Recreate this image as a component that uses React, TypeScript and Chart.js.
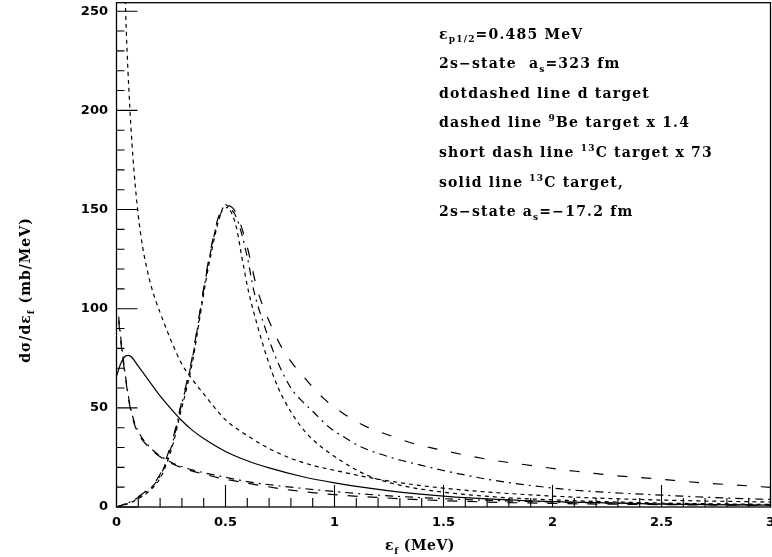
import React, { useEffect, useRef } from "react";
import { Chart, registerables } from "chart.js";

Chart.register(...registerables);

// ---- data ----
const longDashX = [0, 0.05, 0.1, 0.15, 0.2, 0.23, 0.26, 0.29, 0.32, 0.35, 0.38, 0.41, 0.44, 0.47, 0.51, 0.55, 0.6, 0.645, 0.705, 0.765, 0.86, 0.95, 1.04, 1.14, 1.25, 1.35, 1.47, 1.58, 1.69, 1.8, 1.92, 2.03, 2.15, 2.26, 2.38, 2.5, 2.6, 2.72, 2.84, 3.0];
const longDashY = [0, 2.1, 5.3, 9.5, 16.5, 25, 35, 49, 62, 77, 97, 117, 134, 147, 152, 148, 131, 110, 92.5, 79, 65.5, 54.8, 47.2, 40.8, 36.2, 32.4, 29.2, 26.6, 24.3, 22.4, 20.7, 19, 17.5, 16.1, 15, 14, 13, 11.9, 11.1, 9.9];

const dotDashX = [0, 0.05, 0.1, 0.15, 0.2, 0.23, 0.26, 0.29, 0.32, 0.35, 0.38, 0.41, 0.44, 0.47, 0.505, 0.55, 0.6, 0.63, 0.675, 0.73, 0.8, 0.85, 0.9, 0.97, 1.04, 1.12, 1.21, 1.3, 1.4, 1.5, 1.6, 1.7, 1.8, 1.95, 2.1, 2.25, 2.5, 2.75, 3.0];
const dotDashY = [0, 1.9, 4.8, 8.8, 15.5, 23.5, 33.5, 48, 61, 76, 96, 116, 133, 146, 151, 146, 126, 109, 92.5, 75.5, 60, 53.5, 48.3, 40.7, 35.5, 30.4, 26.7, 23.7, 21, 18.4, 16.1, 14, 12.3, 10.2, 8.5, 7.4, 6, 4.7, 3.8];

const shortPeakX = [0, 0.05, 0.1, 0.15, 0.2, 0.23, 0.26, 0.29, 0.32, 0.35, 0.38, 0.41, 0.44, 0.47, 0.5, 0.52, 0.55, 0.575, 0.605, 0.645, 0.69, 0.74, 0.8, 0.85, 0.9, 1.0, 1.15, 1.3, 1.5, 1.75, 2.0, 2.5, 3.0];
const shortPeakY = [0, 1.6, 4.2, 8.0, 14.5, 22, 32, 46, 59, 74, 94, 114, 131, 145, 152.5, 150, 141, 126, 109, 92, 75.5, 60.5, 48, 40, 34, 25.5, 16, 11, 7.5, 5, 3.6, 2, 1.3];

const shortTopX = [0.035, 0.042, 0.062, 0.08, 0.1, 0.12, 0.14, 0.16, 0.18, 0.2, 0.25, 0.3, 0.35, 0.4, 0.5, 0.6, 0.7, 0.8, 0.9, 1.0, 1.2, 1.5, 2.0, 2.5, 3.0];
const shortTopY = [280, 249.5, 199.7, 170, 147, 131, 120, 111, 104, 98, 84, 72, 64, 57, 44, 36, 29.5, 24.5, 21, 18.5, 14, 9.5, 5.5, 3.5, 2.5];

const solidX = [0, 0.02, 0.04, 0.055, 0.07, 0.1, 0.15, 0.2, 0.25, 0.3, 0.35, 0.4, 0.5, 0.6, 0.7, 0.85, 1.0, 1.15, 1.3, 1.5, 1.75, 2.0, 2.5, 3.0];
const solidY = [66, 72.5, 76, 76.5, 75.5, 71, 63.5, 56, 49.5, 43.5, 38.5, 34.5, 28, 23.3, 19.7, 15.4, 12.2, 9.6, 7.5, 5.5, 3.8, 2.7, 1.5, 0.9];

const lowDotDashX = [0.01, 0.02, 0.04, 0.06, 0.08, 0.1, 0.15, 0.2, 0.25, 0.3, 0.4, 0.5, 0.6, 0.8, 1.0, 1.2, 1.5, 2.0, 2.5, 3.0];
const lowDotDashY = [96, 85, 67, 52.5, 43.5, 38, 30.5, 25.8, 22.6, 20.3, 17.3, 15, 12.8, 10, 7.8, 6, 4.2, 2.5, 1.6, 1.1];

const lowDashX = [0.01, 0.02, 0.04, 0.06, 0.08, 0.1, 0.15, 0.2, 0.25, 0.3, 0.4, 0.5, 0.6, 0.8, 1.0, 1.2, 1.5, 2.0, 2.5, 3.0];
const lowDashY = [94, 83, 66, 51.5, 42.5, 37, 30, 25.3, 22.1, 19.8, 16.6, 14, 12, 8.5, 6.2, 4.8, 3.2, 1.8, 1.2, 0.8];

const xTickLabels = ["0", "0.5", "1", "1.5", "2", "2.5", "3"];
const yTickLabels = ["0", "50", "100", "150", "200", "250"];

type Part = { t: string; sub?: boolean; sup?: boolean };
const legendLines: Part[][] = [
  [{ t: "ε" }, { t: "p1/2", sub: true }, { t: "=0.485 MeV" }],
  [{ t: "2s−state  a" }, { t: "s", sub: true }, { t: "=323 fm" }],
  [{ t: "dotdashed line d target" }],
  [{ t: "dashed line " }, { t: "9", sup: true }, { t: "Be target x 1.4" }],
  [{ t: "short dash line " }, { t: "13", sup: true }, { t: "C target x 73" }],
  [{ t: "solid line " }, { t: "13", sup: true }, { t: "C target," }],
  [{ t: "2s−state a" }, { t: "s", sub: true }, { t: "=−17.2 fm" }],
];
const xTitle: Part[] = [{ t: "ε" }, { t: "f", sub: true }, { t: " (MeV)" }];
const yTitle: Part[] = [{ t: "dσ/dε" }, { t: "f", sub: true }, { t: " (mb/MeV)" }];

const SERIF = '"DejaVu Serif", serif';
const SANS = '"DejaVu Sans", sans-serif';

function pts(xs: number[], ys: number[]) {
  return xs.map((x, i) => ({ x, y: ys[i] }));
}

function setFont(ctx: CanvasRenderingContext2D, size: number, fam: string, spacing: string) {
  ctx.font = `bold ${size}px ${fam}`;
  (ctx as any).letterSpacing = spacing;
}

function richWidth(ctx: CanvasRenderingContext2D, parts: Part[], size: number, fam: string, spacing: string) {
  let w = 0;
  for (const p of parts) {
    const fs = p.sub || p.sup ? Math.round(size * 0.65) : size;
    setFont(ctx, fs, fam, spacing);
    w += ctx.measureText(p.t).width;
  }
  return w;
}

function drawRich(ctx: CanvasRenderingContext2D, x: number, y: number, parts: Part[], size: number, fam: string, spacing: string) {
  let cx = x;
  for (const p of parts) {
    const fs = p.sub || p.sup ? Math.round(size * 0.65) : size;
    setFont(ctx, fs, fam, spacing);
    const dy = p.sub ? size * 0.28 : p.sup ? -size * 0.42 : 0;
    ctx.fillText(p.t, cx, y + dy);
    cx += ctx.measureText(p.t).width;
  }
}

const decorPlugin = {
  id: "decor",
  afterDraw(chart: any) {
    const ctx: CanvasRenderingContext2D = chart.ctx;
    const { left, right, top, bottom } = chart.chartArea;
    const xs = chart.scales.x;
    const ys = chart.scales.y;
    ctx.save();
    ctx.strokeStyle = "#000";
    ctx.fillStyle = "#000";
    ctx.lineWidth = 1.3;
    ctx.strokeRect(left, top, right - left, bottom - top);
    ctx.lineWidth = 1.1;
    ctx.beginPath();
    for (let v = 0; v <= 250; v += 10) {
      const py = ys.getPixelForValue(v);
      const len = v % 50 === 0 ? 21 : 8;
      ctx.moveTo(left, py);
      ctx.lineTo(left + len, py);
    }
    for (let i = 0; i <= 30; i++) {
      const px = xs.getPixelForValue(i / 10);
      const len = i % 5 === 0 ? 22 : 9;
      ctx.moveTo(px, bottom);
      ctx.lineTo(px, bottom - len);
    }
    ctx.stroke();

    // tick labels
    setFont(ctx, 13, SANS, "0px");
    ctx.textBaseline = "middle";
    ctx.textAlign = "right";
    yTickLabels.forEach((l) => {
      ctx.fillText(l, left - 8.5, ys.getPixelForValue(Number(l)));
    });
    ctx.textAlign = "center";
    xTickLabels.forEach((l) => {
      ctx.fillText(l, xs.getPixelForValue(Number(l)), bottom + 16);
    });

    // legend text
    ctx.textAlign = "left";
    ctx.textBaseline = "alphabetic";
    legendLines.forEach((line, i) => {
      drawRich(ctx, 439, 38.5 + i * 29.6, line, 14, SERIF, "1.2px");
    });

    // x title
    const wx = richWidth(ctx, xTitle, 14, SERIF, "0.5px");
    drawRich(ctx, 420 - wx / 2, 550, xTitle, 14, SERIF, "0.5px");

    // y title
    const wy = richWidth(ctx, yTitle, 14, SERIF, "1px");
    ctx.translate(30, 290);
    ctx.rotate(-Math.PI / 2);
    drawRich(ctx, -wy / 2, 0, yTitle, 14, SERIF, "1px");
    ctx.restore();
  },
};

export default function App() {
  const ref = useRef<HTMLCanvasElement | null>(null);
  useEffect(() => {
    if (!ref.current) return;
    const common = { borderColor: "#000", borderWidth: 1.2, pointRadius: 0, fill: false, cubicInterpolationMode: "monotone" as const };
    const chart = new Chart(ref.current, {
      type: "line",
      data: {
        datasets: [
          { ...common, label: "9Be x1.4", data: pts(longDashX, longDashY), borderDash: [10, 14] },
          { ...common, label: "d target", data: pts(dotDashX, dotDashY), borderDash: [8, 5, 2, 5] },
          { ...common, label: "13C x73", data: pts(shortPeakX, shortPeakY), borderDash: [4, 4] },
          { ...common, label: "short top", data: pts(shortTopX, shortTopY), borderDash: [4, 4] },
          { ...common, label: "solid", data: pts(solidX, solidY) },
          { ...common, label: "low dotdash", data: pts(lowDotDashX, lowDotDashY), borderDash: [8, 5, 2, 5] },
          { ...common, label: "low dash", data: pts(lowDashX, lowDashY), borderDash: [10, 10] },
        ] as any,
      },
      options: {
        animation: false,
        responsive: false,
        devicePixelRatio: 1,
        parsing: false as any,
        layout: { padding: { left: 116.5, right: 1.5, top: 2.7, bottom: 50 } },
        scales: {
          x: { type: "linear", min: 0, max: 3, display: false },
          y: { type: "linear", min: 0, max: 254.3, display: false },
        },
        plugins: { legend: { display: false }, tooltip: { enabled: false }, title: { display: false } },
      },
      plugins: [decorPlugin],
    });
    return () => chart.destroy();
  }, []);
  return (
    <div style={{ position: "fixed", left: 0, top: 0, width: 772, height: 557, background: "#fff" }}>
      <canvas ref={ref} width={772} height={557} style={{ display: "block" }} />
    </div>
  );
}
